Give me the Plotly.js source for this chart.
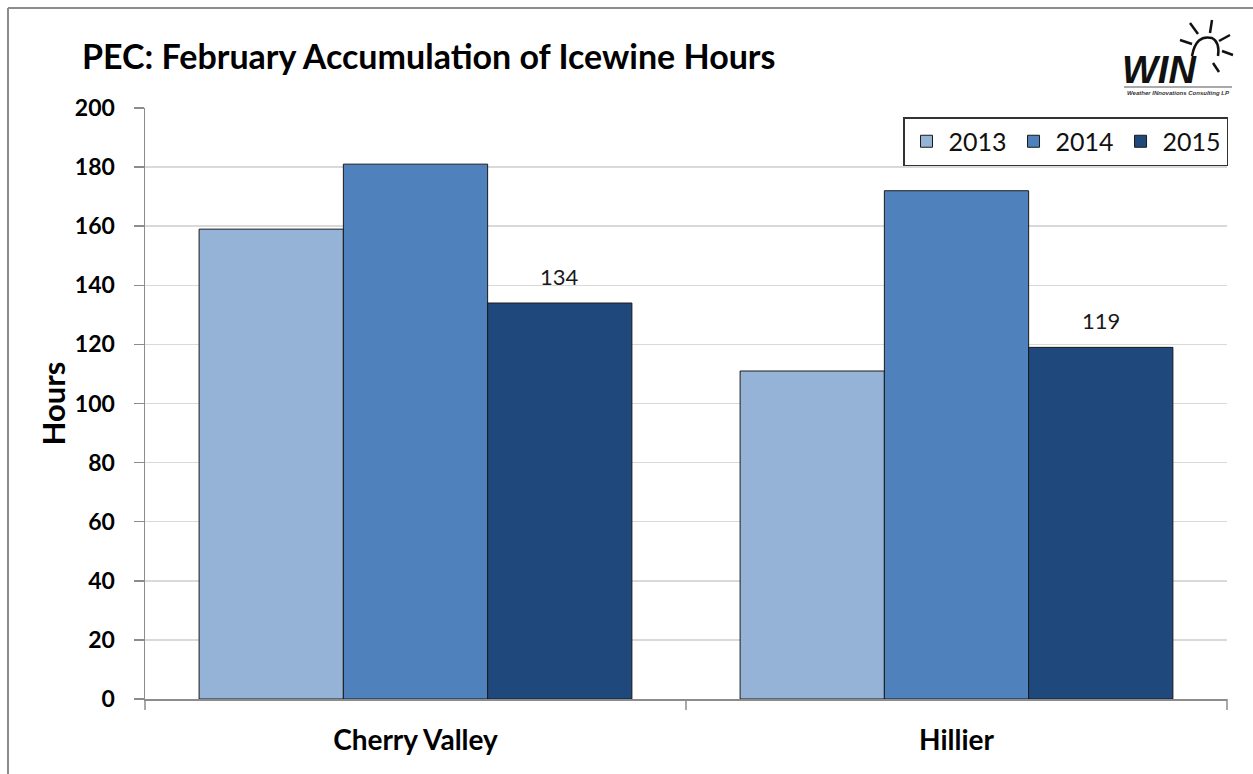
<!DOCTYPE html>
<html>
<head>
<meta charset="utf-8">
<script src="https://cdn.plot.ly/plotly-3.0.1.min.js"></script>
<style>
html,body{margin:0;padding:0;background:#fff;}
#chart{width:1253px;height:774px;}
</style>
</head>
<body>
<div id="chart"></div>
<script>
const categories = ["Cherry Valley", "Hillier"];
const seriesNames = ["2013", "2014", "2015"];
const values2013 = [159, 111];
const values2014 = [181, 172];
const values2015 = [134, 119];
const yTicks = [0, 20, 40, 60, 80, 100, 120, 140, 160, 180, 200];

const colors = ["#95B3D7", "#4F81BD", "#1F497D"];
const FONT = "Lato, 'Open Sans', sans-serif";

// plot area geometry (pixels)
const L = 145, R = 1227, T = 108, B = 699;
const W = 1253, H = 774;
const px = x => (x - L) / (R - L);
const py = y => (B - y) / (B - T);

const allValues = [values2013, values2014, values2015];
const traces = allValues.map((vals, i) => ({
  type: "bar",
  name: seriesNames[i],
  x: categories,
  y: vals,
  marker: {color: colors[i], line: {color: "#1a1a1a", width: 1}},
  hoverinfo: "none"
}));

const shapes = [
  // outer frame (left and top edges)
  {type: "line", xref: "paper", yref: "paper", x0: px(8), x1: px(8), y0: py(8), y1: py(H + 5), line: {color: "#8c8c8c", width: 2}},
  {type: "line", xref: "paper", yref: "paper", x0: px(8), x1: px(W + 5), y0: py(8), y1: py(8), line: {color: "#8c8c8c", width: 2}},
  // x-axis category separator ticks
  {type: "line", xref: "paper", yref: "paper", x0: px(145), x1: px(145), y0: py(699), y1: py(710), line: {color: "#8c8c8c", width: 1.5}},
  {type: "line", xref: "paper", yref: "paper", x0: px(686), x1: px(686), y0: py(699), y1: py(710), line: {color: "#8c8c8c", width: 1.5}},
  {type: "line", xref: "paper", yref: "paper", x0: px(1227), x1: px(1227), y0: py(699), y1: py(710), line: {color: "#8c8c8c", width: 1.5}},
  // logo underline
  {type: "line", xref: "paper", yref: "paper", x0: px(1124), x1: px(1232), y0: py(87), y1: py(87), line: {color: "#555", width: 1}},
  // logo sun arc
  {type: "path", xref: "paper", yref: "paper",
   path: `M ${px(1192)} ${py(56)} Q ${px(1196)} ${py(34)} ${px(1212)} ${py(38)} Q ${px(1220)} ${py(42)} ${px(1218)} ${py(56)}`,
   line: {color: "#111", width: 2.5}},
  // sun rays
  {type: "line", xref: "paper", yref: "paper", x0: px(1190), x1: px(1198), y0: py(23), y1: py(34), line: {color: "#111", width: 2.5}},
  {type: "line", xref: "paper", yref: "paper", x0: px(1212), x1: px(1210), y0: py(20), y1: py(33), line: {color: "#111", width: 2.5}},
  {type: "line", xref: "paper", yref: "paper", x0: px(1230), x1: px(1219), y0: py(35), y1: py(41), line: {color: "#111", width: 2.5}},
  {type: "line", xref: "paper", yref: "paper", x0: px(1233), x1: px(1222), y0: py(55), y1: py(51), line: {color: "#111", width: 2.5}},
  {type: "line", xref: "paper", yref: "paper", x0: px(1180), x1: px(1192), y0: py(40), y1: py(44), line: {color: "#111", width: 2.5}},
  {type: "line", xref: "paper", yref: "paper", x0: px(1213), x1: px(1219), y0: py(63), y1: py(72), line: {color: "#111", width: 2.5}}
];

// data labels for the 2015 series, placed at the centre of each 2015 bar
const groupWidth = 0.8;
const labelAnnotations = values2015.map((v, i) => ({
  xref: "x", yref: "y",
  x: i + groupWidth / 3, y: v,
  xanchor: "center", yanchor: "bottom", yshift: 11,
  text: String(v), showarrow: false,
  font: {family: FONT, size: 22, color: "#1a1a1a"}
}));

const annotations = labelAnnotations.concat([
  {xref: "paper", yref: "paper", x: px(1120), y: py(70), xanchor: "left", yanchor: "middle",
   text: "<b><i>WIN</i></b>", showarrow: false, font: {family: "'Liberation Sans', Arial, sans-serif", size: 38, color: "#111"}},
  {xref: "paper", yref: "paper", x: px(1178), y: py(93), xanchor: "center", yanchor: "middle",
   text: "<b><i>Weather INnovations Consulting LP</i></b>", showarrow: false, font: {family: "'Liberation Sans', Arial, sans-serif", size: 6, color: "#333"}}
]);

const layout = {
  width: W, height: H,
  margin: {l: L, r: W - R, t: T, b: H - B, pad: 0},
  paper_bgcolor: "#ffffff",
  plot_bgcolor: "#ffffff",
  title: {
    text: "<b>PEC: February Accumulation of Icewine Hours</b>",
    font: {family: FONT, size: 34, color: "#000"},
    x: 82 / W, xanchor: "left", xref: "container",
    y: 1 - 57 / H, yanchor: "middle", yref: "container"
  },
  barmode: "group",
  bargap: 0.2,
  bargroupgap: 0,
  showlegend: true,
  legend: {
    orientation: "h",
    x: px(1228), xanchor: "right",
    y: py(117), yanchor: "top",
    bgcolor: "#ffffff",
    bordercolor: "#333",
    borderwidth: 1.5,
    font: {family: FONT, size: 25, color: "#111"},
    traceorder: "normal",
    itemwidth: 34
  },
  xaxis: {
    type: "category",
    tickvals: categories,
    ticktext: categories.map(c => "<b>" + c + "</b>"),
    showgrid: false,
    showline: true,
    linecolor: "#8c8c8c",
    linewidth: 1.5,
    ticks: "",
    tickfont: {family: FONT, size: 28, color: "#000"},
    ticklabelstandoff: 16,
    fixedrange: true
  },
  yaxis: {
    range: [0, 200],
    tickvals: yTicks,
    ticktext: yTicks.map(v => "<b>" + v + "</b>"),
    showgrid: true,
    gridcolor: "#d9d9d9",
    gridwidth: 1.5,
    showline: true,
    linecolor: "#8c8c8c",
    linewidth: 1.5,
    ticks: "outside",
    ticklen: 10,
    tickcolor: "#8c8c8c",
    tickwidth: 1.5,
    tickfont: {family: FONT, size: 23, color: "#000"},
    ticklabelstandoff: 14,
    zeroline: false,
    title: {text: "<b>Hours</b>", font: {family: FONT, size: 31, color: "#000"}, standoff: 0},
    fixedrange: true
  },
  shapes: shapes,
  annotations: annotations
};

Plotly.newPlot("chart", traces, layout, {displayModeBar: false, staticPlot: true});
</script>
</body>
</html>
